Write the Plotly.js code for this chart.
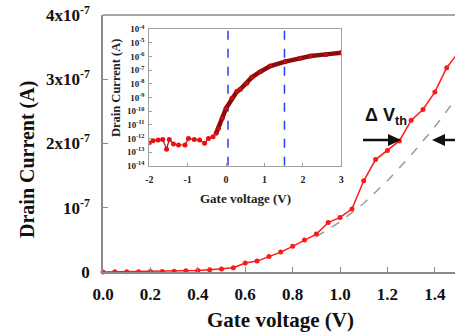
<!DOCTYPE html>
<html>
<head>
<meta charset="utf-8">
<script src="https://cdn.plot.ly/plotly-3.0.1.min.js"></script>
<style>html,body{margin:0;padding:0;background:#fff;overflow:hidden}#chart{width:455px;height:333px}</style>
</head>
<body>
<div id="chart"></div>
<script>
// Main chart: drain current vs gate voltage (linear)
const mainVg = [0.0,0.05,0.1,0.15,0.2,0.25,0.3,0.35,0.4,0.45,0.5,0.55,0.6,0.65,0.7,0.75,0.8,0.85,0.9,0.95,1.0,1.05,1.1,1.15,1.2,1.25,1.3,1.35,1.4,1.45,1.5];
const mainId = [0,0.002e-7,0.003e-7,0.004e-7,0.006e-7,0.008e-7,0.012e-7,0.02e-7,0.025e-7,0.036e-7,0.047e-7,0.067e-7,0.14e-7,0.17e-7,0.24e-7,0.31e-7,0.40e-7,0.50e-7,0.59e-7,0.77e-7,0.85e-7,0.98e-7,1.42e-7,1.75e-7,1.89e-7,2.04e-7,2.36e-7,2.53e-7,2.80e-7,3.18e-7,3.42e-7];
// Gray dashed reference curve
const refVg = [0.9,1.0,1.1,1.2,1.3,1.4,1.5];
const refId = [0.55e-7,0.78e-7,1.07e-7,1.42e-7,1.82e-7,2.26e-7,2.75e-7];
const mainXTicks = [0,0.2,0.4,0.6,0.8,1.0,1.2,1.4];
const mainXText = ['0.0','0.2','0.4','0.6','0.8','1.0','1.2','1.4'];
const mainYTicks = [0,1e-7,2e-7,3e-7,4e-7];
const mainYText = ['0','10<sup>-7</sup>','2x10<sup>-7</sup>','3x10<sup>-7</sup>','4x10<sup>-7</sup>'];

// Inset: log scale transfer curve
const insetVg = [-2.0,-1.9,-1.77,-1.65,-1.55,-1.48,-1.37,-1.24,-1.07,-0.98,-0.83,-0.69,-0.56,-0.46,-0.34,-0.26,-0.2,-0.1,0.0,0.15,0.28,0.37,0.54,0.67,0.89,1.15,1.54,1.93,2.2,2.6,3.0];
const insetId = [4.9e-13,6.8e-13,7.6e-13,8.5e-13,1.6e-13,8.5e-13,3.9e-13,3.3e-13,3.3e-13,1.0e-12,8.5e-13,7.6e-13,4.4e-13,1.0e-12,1.35e-12,2.4e-12,5.5e-12,3.2e-11,1.6e-10,8.7e-10,2.7e-9,4.0e-9,1.1e-8,3.0e-8,7.8e-8,2.0e-7,4.3e-7,7.4e-7,1.1e-6,1.45e-6,1.9e-6];
const onVg = [-0.26,-0.2,-0.1,0.0,0.15,0.28,0.37,0.54,0.67,0.89,1.15,1.54,1.93,2.2,2.6,3.0];
const onId = [2.4e-12,5.5e-12,3.2e-11,1.6e-10,8.7e-10,2.7e-9,4.0e-9,1.1e-8,3.0e-8,7.8e-8,2.0e-7,4.3e-7,7.4e-7,1.1e-6,1.45e-6,1.9e-6];
const insetXTicks = [-2,-1,0,1,2,3];
const insetXText = ['-2','-1','0','1','2','3'];
const insetYTicks = [1e-4,1e-5,1e-6,1e-7,1e-8,1e-9,1e-10,1e-11,1e-12,1e-13,1e-14];
const insetYText = ['10<sup>-4</sup>','10<sup>-5</sup>','10<sup>-6</sup>','10<sup>-7</sup>','10<sup>-8</sup>','10<sup>-9</sup>','10<sup>-10</sup>','10<sup>-11</sup>','10<sup>-12</sup>','10<sup>-13</sup>','10<sup>-14</sup>'];
const vlineVg = [0.05, 1.52];

const serif = '"Liberation Serif","Times New Roman",serif';
const sans = '"Liberation Sans",Arial,sans-serif';
const b = s => '<b>' + s + '</b>';

// layout geometry helpers (pixels -> paper)
const L = 103, T = 15, W = 352, H = 257;
const px = x => (x - L) / W;
const py = y => (T + H - y) / H;

const traces = [
  {x: refVg, y: refId, mode: 'lines', line: {color: '#9a9a9a', width: 1.5, dash: 'dash'}, xaxis: 'x', yaxis: 'y', hoverinfo: 'skip'},
  {x: mainVg, y: mainId, mode: 'lines+markers', line: {color: '#ff1a1a', width: 1.5}, marker: {color: '#ff1a1a', size: 5}, xaxis: 'x', yaxis: 'y', cliponaxis: false},
  {x: [vlineVg[0], vlineVg[0]], y: [1e-14, 1e-4], mode: 'lines', line: {color: '#2a3cff', width: 1.5, dash: 'dash'}, xaxis: 'x2', yaxis: 'y2'},
  {x: [vlineVg[1], vlineVg[1]], y: [1e-14, 1e-4], mode: 'lines', line: {color: '#2a3cff', width: 1.5, dash: 'dash'}, xaxis: 'x2', yaxis: 'y2'},
  {x: insetVg, y: insetId, mode: 'lines+markers', line: {color: '#b01010', width: 1.2}, marker: {color: '#e81010', size: 5}, xaxis: 'x2', yaxis: 'y2'},
  {x: onVg, y: onId, mode: 'lines+markers', line: {color: '#8b0a0a', width: 4.5}, marker: {color: '#c81010', size: 4}, xaxis: 'x2', yaxis: 'y2'}
];

const layout = {
  width: 455, height: 333,
  margin: {l: L, r: 0, t: T, b: 333 - T - H, pad: 0},
  paper_bgcolor: '#fff', plot_bgcolor: '#fff',
  showlegend: false,
  font: {family: serif, size: 12, color: '#111'},
  xaxis: {
    domain: [0, 1], range: [0, 1.485], tickvals: mainXTicks, ticktext: mainXText.map(b),
    showgrid: false, zeroline: false, showline: true, linecolor: '#8a8a8a', linewidth: 1.5,
    ticks: 'inside', ticklen: 5, tickcolor: '#8a8a8a', ticklabelstandoff: 6,
    tickfont: {family: serif, size: 17, color: '#111'}
  },
  yaxis: {
    domain: [0, 1], range: [0, 4e-7], tickvals: mainYTicks, ticktext: mainYText.map(b),
    showgrid: false, zeroline: false, showline: true, linecolor: '#8a8a8a', linewidth: 1.5,
    ticks: 'inside', ticklen: 5, tickcolor: '#8a8a8a', ticklabelstandoff: 8,
    tickfont: {family: serif, size: 17, color: '#111'}
  },
  xaxis2: {
    domain: [px(149.3), px(341.3)], anchor: 'y2', range: [-2, 3], tickvals: insetXTicks, ticktext: insetXText.map(b),
    showgrid: false, zeroline: false, showline: true, mirror: true, linecolor: '#a0a0a0', linewidth: 1.2,
    ticks: 'inside', ticklen: 3, tickcolor: '#a0a0a0', ticklabelstandoff: 4,
    tickfont: {family: serif, size: 10, color: '#222'}
  },
  yaxis2: {
    domain: [py(165.7), py(29.3)], anchor: 'x2', type: 'log', range: [-14, -4],
    tickvals: insetYTicks, ticktext: insetYText.map(b),
    showgrid: false, zeroline: false, showline: true, mirror: true, linecolor: '#a0a0a0', linewidth: 1.2,
    ticks: 'inside', ticklen: 3, tickcolor: '#a0a0a0', ticklabelstandoff: 2,
    tickfont: {family: serif, size: 9, color: '#222'}
  },
  shapes: [
    {type: 'line', xref: 'paper', yref: 'paper', x0: 0, x1: 1, y0: 1, y1: 1, line: {color: '#8a8a8a', width: 1.5}},
    {type: 'line', xref: 'paper', yref: 'paper', x0: px(363), x1: px(392), y0: py(140), y1: py(140), line: {color: '#111', width: 2.5}},
    {type: 'path', xref: 'paper', yref: 'paper', fillcolor: '#111', line: {width: 0},
     path: 'M ' + px(401) + ' ' + py(140) + ' L ' + px(388) + ' ' + py(134) + ' L ' + px(388) + ' ' + py(146) + ' Z'},
    {type: 'line', xref: 'paper', yref: 'paper', x0: px(441), x1: px(460), y0: py(140), y1: py(140), line: {color: '#111', width: 2.5}},
    {type: 'path', xref: 'paper', yref: 'paper', fillcolor: '#111', line: {width: 0},
     path: 'M ' + px(432) + ' ' + py(140) + ' L ' + px(445) + ' ' + py(134) + ' L ' + px(445) + ' ' + py(146) + ' Z'}
  ],
  annotations: [
    {xref: 'paper', yref: 'paper', x: px(280), y: py(320), text: b('Gate voltage (V)'), showarrow: false,
     xanchor: 'center', yanchor: 'middle', font: {family: serif, size: 21, color: '#111'}},
    {xref: 'paper', yref: 'paper', x: px(27), y: py(160), text: b('Drain Current (A)'), showarrow: false, textangle: -90,
     xanchor: 'center', yanchor: 'middle', font: {family: serif, size: 20, color: '#111'}},
    {xref: 'paper', yref: 'paper', x: px(245), y: py(198), text: b('Gate voltage (V)'), showarrow: false,
     xanchor: 'center', yanchor: 'middle', font: {family: serif, size: 13, color: '#222'}},
    {xref: 'paper', yref: 'paper', x: px(116), y: py(88), text: b('Drain Current (A)'), showarrow: false, textangle: -90,
     xanchor: 'center', yanchor: 'middle', font: {family: serif, size: 12.5, color: '#222'}},
    {xref: 'paper', yref: 'paper', x: px(386), y: py(116), text: b('Δ V<sub>th</sub>'), showarrow: false,
     xanchor: 'center', yanchor: 'middle', font: {family: sans, size: 18, color: '#111'}}
  ]
};

Plotly.newPlot('chart', traces, layout, {displayModeBar: false});
</script>
</body>
</html>
